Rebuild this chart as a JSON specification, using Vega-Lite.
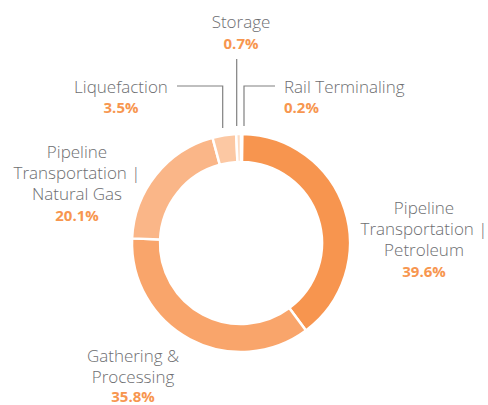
{
  "$schema": "https://vega.github.io/schema/vega-lite/v6.json",
  "width": 488,
  "height": 405,
  "padding": 0,
  "autosize": {"type": "none"},
  "background": "white",
  "config": {"view": {"stroke": null}},
  "datasets": {
    "shares": [
      {"segment": "Rail Terminaling", "share": 0.2, "rank": 1},
      {"segment": "Pipeline Transportation | Petroleum", "share": 39.6, "rank": 2},
      {"segment": "Gathering & Processing", "share": 35.8, "rank": 3},
      {"segment": "Pipeline Transportation | Natural Gas", "share": 20.1, "rank": 4},
      {"segment": "Liquefaction", "share": 3.5, "rank": 5},
      {"segment": "Storage", "share": 0.7, "rank": 6}
    ],
    "labels": [
      {"segment": "Pipeline Transportation | Petroleum", "name": "Pipeline\nTransportation |\nPetroleum", "pct": "39.6%", "lx": 183, "ny": 29, "py": -34},
      {"segment": "Gathering & Processing", "name": "Gathering &\nProcessing", "pct": "35.8%", "lx": -108, "ny": -119, "py": -159},
      {"segment": "Pipeline Transportation | Natural Gas", "name": "Pipeline\nTransportation |\nNatural Gas", "pct": "20.1%", "lx": -164, "ny": 85, "py": 22},
      {"segment": "Liquefaction", "name": "Liquefaction", "pct": "3.5%", "lx": -120, "ny": 150, "py": 130},
      {"segment": "Storage", "name": "Storage", "pct": "0.7%", "lx": 0, "ny": 215, "py": 194},
      {"segment": "Rail Terminaling", "name": "Rail Terminaling", "pct": "0.2%", "lx": 43, "ny": 150, "py": 130}
    ],
    "leaders": [
      {"leader": "Liquefaction", "step": 1, "lx": -64, "ly": 157},
      {"leader": "Liquefaction", "step": 2, "lx": -18.3, "ly": 157},
      {"leader": "Liquefaction", "step": 3, "lx": -18.3, "ly": 115},
      {"leader": "Storage", "step": 1, "lx": -4.3, "ly": 184},
      {"leader": "Storage", "step": 2, "lx": -4.3, "ly": 117},
      {"leader": "Rail Terminaling", "step": 1, "lx": 34, "ly": 157},
      {"leader": "Rail Terminaling", "step": 2, "lx": 3, "ly": 157},
      {"leader": "Rail Terminaling", "step": 3, "lx": 3, "ly": 117}
    ]
  },
  "layer": [
    {
      "data": {"name": "shares"},
      "mark": {"type": "arc", "innerRadius": 81, "outerRadius": 109, "stroke": "white", "strokeWidth": 2.5},
      "encoding": {
        "theta": {"field": "share", "type": "quantitative", "stack": true},
        "order": {"field": "rank", "type": "quantitative"},
        "x": {"datum": 0, "type": "quantitative", "scale": {"domain": [-241, 247], "nice": false, "zero": false}, "axis": null},
        "y": {"datum": 0, "type": "quantitative", "scale": {"domain": [-162, 243], "nice": false, "zero": false}, "axis": null},
        "color": {
          "field": "segment", "type": "nominal", "legend": null,
          "scale": {
            "domain": ["Rail Terminaling", "Pipeline Transportation | Petroleum", "Gathering & Processing", "Pipeline Transportation | Natural Gas", "Liquefaction", "Storage"],
            "range": ["#F79651", "#F7954F", "#F9A56B", "#FAB688", "#FCC8A3", "#FDDCC4"]
          }
        }
      }
    },
    {
      "data": {"name": "leaders"},
      "mark": {"type": "line", "color": "#808080", "strokeWidth": 1.2, "interpolate": "linear"},
      "encoding": {
        "x": {"field": "lx", "type": "quantitative"},
        "y": {"field": "ly", "type": "quantitative"},
        "detail": {"field": "leader"},
        "order": {"field": "step", "type": "quantitative"}
      }
    },
    {
      "data": {"name": "labels"},
      "transform": [{"filter": "datum.segment !== 'Rail Terminaling'"}],
      "mark": {"type": "text", "align": "center", "baseline": "alphabetic", "lineBreak": "\n", "lineHeight": 21, "font": "Open Sans", "fontWeight": 300, "fontSize": 17, "color": "#6D6E71"},
      "encoding": {
        "x": {"field": "lx", "type": "quantitative"},
        "y": {"field": "ny", "type": "quantitative"},
        "text": {"field": "name"}
      }
    },
    {
      "data": {"name": "labels"},
      "transform": [{"filter": "datum.segment === 'Rail Terminaling'"}],
      "mark": {"type": "text", "align": "left", "baseline": "alphabetic", "lineBreak": "\n", "lineHeight": 21, "font": "Open Sans", "fontWeight": 300, "fontSize": 17, "color": "#6D6E71"},
      "encoding": {
        "x": {"field": "lx", "type": "quantitative"},
        "y": {"field": "ny", "type": "quantitative"},
        "text": {"field": "name"}
      }
    },
    {
      "data": {"name": "labels"},
      "transform": [{"filter": "datum.segment !== 'Rail Terminaling'"}],
      "mark": {"type": "text", "align": "center", "baseline": "alphabetic", "font": "Open Sans", "fontWeight": "bold", "fontSize": 15, "color": "#F7964F"},
      "encoding": {
        "x": {"field": "lx", "type": "quantitative"},
        "y": {"field": "py", "type": "quantitative"},
        "text": {"field": "pct"}
      }
    },
    {
      "data": {"name": "labels"},
      "transform": [{"filter": "datum.segment === 'Rail Terminaling'"}],
      "mark": {"type": "text", "align": "left", "baseline": "alphabetic", "font": "Open Sans", "fontWeight": "bold", "fontSize": 15, "color": "#F7964F"},
      "encoding": {
        "x": {"field": "lx", "type": "quantitative"},
        "y": {"field": "py", "type": "quantitative"},
        "text": {"field": "pct"}
      }
    }
  ]
}
